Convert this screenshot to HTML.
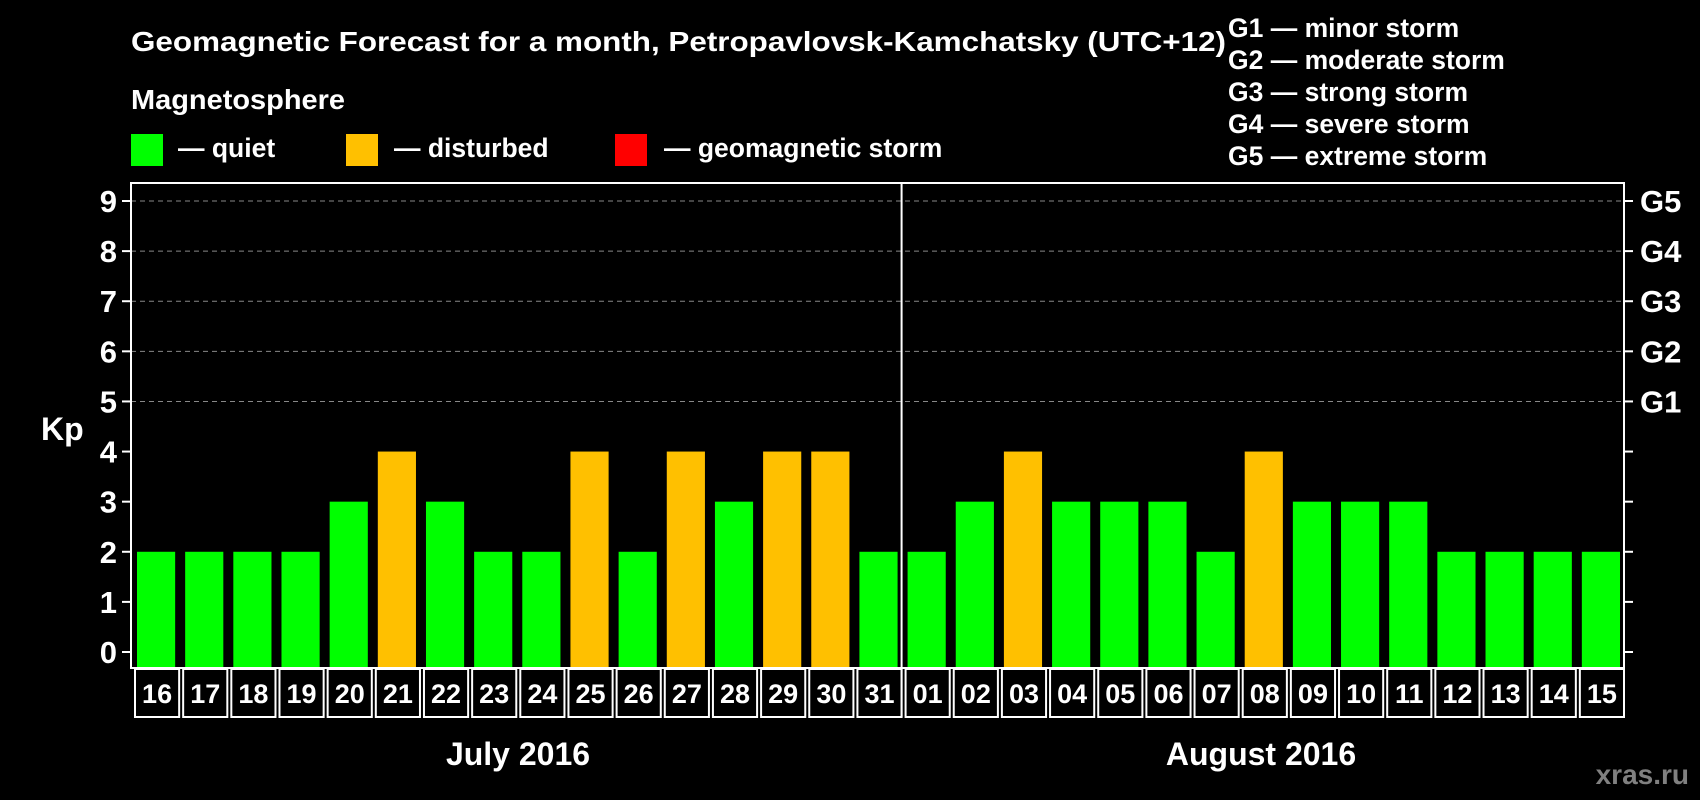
<!DOCTYPE html>
<html><head><meta charset="utf-8"><style>
body{margin:0;background:#000;width:1700px;height:800px;overflow:hidden}
svg{display:block;font-family:"Liberation Sans",sans-serif;font-weight:bold}
</style></head><body>
<svg id="c" width="1700" height="800" viewBox="0 0 1700 800">
<rect width="1700" height="800" fill="#000"/>
<text x="131" y="51" fill="#fff" font-size="28" textLength="1095" lengthAdjust="spacingAndGlyphs">Geomagnetic Forecast for a month, Petropavlovsk-Kamchatsky (UTC+12)</text>
<text x="131" y="109" fill="#fff" font-size="28" textLength="214" lengthAdjust="spacingAndGlyphs">Magnetosphere</text>
<g>
<rect x="131" y="134" width="32" height="32" fill="#00ff00"/>
<text x="178" y="157" fill="#fff" font-size="26.5">— quiet</text>
<rect x="346" y="134" width="32" height="32" fill="#ffc000"/>
<text x="394" y="157" fill="#fff" font-size="26.5">— disturbed</text>
<rect x="615" y="134" width="32" height="32" fill="#ff0000"/>
<text x="664" y="157" fill="#fff" font-size="26.5">— geomagnetic storm</text>
</g>
<g fill="#fff" font-size="26.5">
<text x="1228" y="37">G1 — minor storm</text>
<text x="1228" y="69">G2 — moderate storm</text>
<text x="1228" y="101">G3 — strong storm</text>
<text x="1228" y="133">G4 — severe storm</text>
<text x="1228" y="165">G5 — extreme storm</text>
</g>
<text x="41" y="440" fill="#fff" font-size="32">Kp</text>
<text x="518" y="765" fill="#fff" font-size="32" text-anchor="middle">July 2016</text>
<text x="1261" y="765" fill="#fff" font-size="32" text-anchor="middle">August 2016</text>
<text x="1689" y="784" fill="#808080" font-size="28" text-anchor="end">xras.ru</text>
<g id="plot"></g>
</svg>
<script>
const days=["16","17","18","19","20","21","22","23","24","25","26","27","28","29","30","31","01","02","03","04","05","06","07","08","09","10","11","12","13","14","15"];
const kpValues=[2,2,2,2,3,4,3,2,2,4,2,4,3,4,4,2,2,3,4,3,3,3,2,4,3,3,3,2,2,2,2];
const yTicks=[0,1,2,3,4,5,6,7,8,9];
const gLabels=["G1","G2","G3","G4","G5"];
const NS="http://www.w3.org/2000/svg";
const g=document.getElementById('plot');
const L=131,R=1624,T=183,B=668,Y0=652,Y9=201;
const step=(R-L)/days.length;
const y=v=>Y0-(Y0-Y9)/9*v;
const x=i=>L+i*step;
function mk(t,a){const e=document.createElementNS(NS,t);for(const k in a)e.setAttribute(k,a[k]);g.appendChild(e);return e;}
yTicks.forEach(v=>{
  if(v>=5){const l=mk('line',{x1:L,x2:R,y1:y(v),y2:y(v),stroke:'#888','stroke-dasharray':'5,4','stroke-width':1});
  
  }
  const t1=mk('line',{x1:L-9,x2:L,y1:y(v),y2:y(v),stroke:'#fff','stroke-width':2});
  
  
  const t2=mk('line',{x1:R,x2:R+9,y1:y(v),y2:y(v),stroke:'#fff','stroke-width':2});
  
  
  const tx=mk('text',{x:L-14,y:y(v)+11,fill:'#fff','font-size':31,'text-anchor':'end'});tx.textContent=v;
  
  
});
gLabels.forEach((s,i)=>{const t=mk('text',{x:R+16,y:y(i+5)+11,fill:'#fff','font-size':31});t.textContent=s;
  
  });
kpValues.forEach((v,i)=>{
  const c=v>=5?'#ff0000':v>=4?'#ffc000':'#00ff00';
  const b=mk('rect',{x:x(i)+6,y:y(v),width:step-10,height:B-y(v),fill:c});
  
  
  const bx=mk('rect',{x:x(i)+4,y:669,width:step-4,height:48,fill:'#000',stroke:'#fff','stroke-width':2});
  
  
  const t=mk('text',{x:x(i)+2+step/2,y:703,fill:'#fff','font-size':27,'text-anchor':'middle'});t.textContent=days[i];
  
  
});
const fr=mk('rect',{x:L,y:T,width:R-L,height:B-T,fill:'none',stroke:'#fff','stroke-width':2});


const dv=mk('line',{x1:x(16),x2:x(16),y1:T,y2:717,stroke:'#fff','stroke-width':2});


</script>
</body></html>
